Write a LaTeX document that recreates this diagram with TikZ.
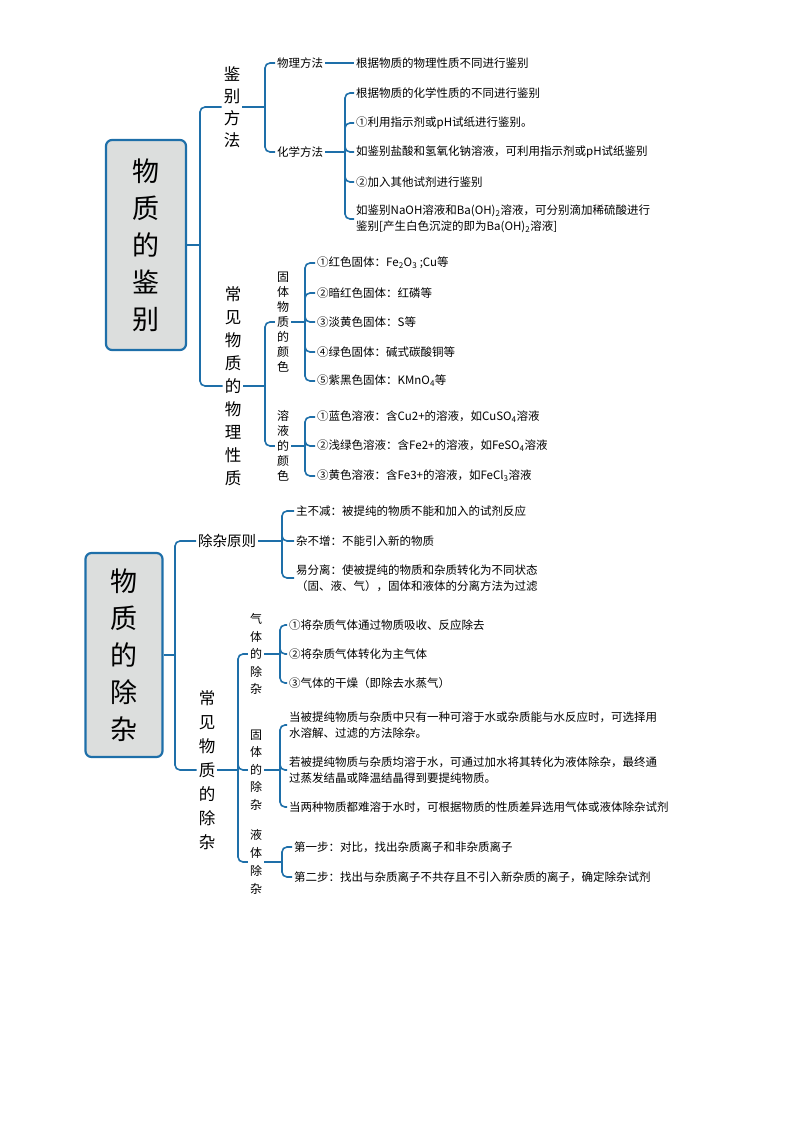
\documentclass[tikz,border=0pt]{standalone}
\usepackage{fontspec}
\setmainfont{Noto Sans CJK SC}
\usetikzlibrary{positioning}
\definecolor{mapblue}{HTML}{1E6FA9}
\definecolor{boxgray}{HTML}{DCDEDD}
\tikzset{brace/.style={draw=mapblue,line width=1.6pt,rounded corners=5pt},
    titlebox/.style={draw=mapblue,line width=2.2pt,fill=boxgray,rounded corners=6pt,align=center,font=\fontsize{27}{37}\selectfont},
    leaf/.style={anchor=west,align=left,inner sep=2pt,font=\fontsize{11.5}{16}\selectfont},
    vtext/.style={align=center,inner sep=2pt,font=\fontsize{12}{15}\selectfont},
    vbig/.style={align=center,inner sep=2pt,font=\fontsize{16.5}{23}\selectfont}}
\begin{document}
\begin{tikzpicture}[x=1pt,y=-1pt]
\useasboundingbox (0,0) rectangle (794,1123);
% first block
\node[titlebox,minimum width=80,minimum height=210] (t1) at (146,245) {物\\质\\的\\鉴\\别};
\node[vbig,font=\fontsize{16.5}{22}\selectfont] (m1) at (232,107) {鉴\\别\\方\\法};
\node[vbig] (m2) at (233,386) {常\\见\\物\\质\\的\\物\\理\\性\\质};
\coordinate (b1) at (200,245);
\draw[brace] (t1.east) -- (b1);
\draw[brace] (b1) |- (m1.west);
\draw[brace] (b1) |- (m2.west);
\node[leaf] (p1) at (275,63) {物理方法};
\node[leaf] (p2) at (275,152) {化学方法};
\coordinate (b2) at (265,107);
\draw[brace] (m1.east) -- (b2);
\draw[brace] (b2) |- (p1.west);
\draw[brace] (b2) |- (p2.west);
\node[leaf] (p1a) at (354,63) {根据物质的物理性质不同进行鉴别};
\draw[brace] (p1.east) -- (p1a.west);
\node[leaf] (c1) at (354,93) {根据物质的化学性质的不同进行鉴别};
\node[leaf] (c2) at (354,123) {①利用指示剂或pH试纸进行鉴别。};
\node[leaf] (c3) at (354,152) {如鉴别盐酸和氢氧化钠溶液，可利用指示剂或pH试纸鉴别};
\node[leaf] (c4) at (354,182) {②加入其他试剂进行鉴别};
\node[leaf] (c5) at (354,219) {如鉴别NaOH溶液和Ba(OH)\textsubscript{2}溶液，可分别滴加稀硫酸进行\\鉴别[产生白色沉淀的即为Ba(OH)\textsubscript{2}溶液]};
\coordinate (b3) at (345,152);
\draw[brace] (p2.east) -- (b3);
\foreach \n in {c1,c2,c3,c4,c5} \draw[brace] (b3) |- (\n.west);
\node[vtext] (s1) at (283,322) {固\\体\\物\\质\\的\\颜\\色};
\node[vtext] (s2) at (283,446) {溶\\液\\的\\颜\\色};
\coordinate (b4) at (265,386);
\draw[brace] (m2.east) -- (b4);
\draw[brace] (b4) |- (s1.west);
\draw[brace] (b4) |- (s2.west);
\node[leaf] (g1) at (315,263) {①红色固体：Fe\textsubscript{2}O\textsubscript{3} ;Cu等};
\node[leaf] (g2) at (315,293) {②暗红色固体：红磷等};
\node[leaf] (g3) at (315,322) {③淡黄色固体：S等};
\node[leaf] (g4) at (315,352) {④绿色固体：碱式碳酸铜等};
\node[leaf] (g5) at (315,381) {⑤紫黑色固体：KMnO\textsubscript{4}等};
\coordinate (b5) at (305,322);
\draw[brace] (s1.east) -- (b5);
\foreach \n in {g1,g2,g3,g4,g5} \draw[brace] (b5) |- (\n.west);
\node[leaf] (r1) at (315,417) {①蓝色溶液：含Cu2+的溶液，如CuSO\textsubscript{4}溶液};
\node[leaf] (r2) at (315,446) {②浅绿色溶液：含Fe2+的溶液，如FeSO\textsubscript{4}溶液};
\node[leaf] (r3) at (315,476) {③黄色溶液：含Fe3+的溶液，如FeCl\textsubscript{3}溶液};
\coordinate (b6) at (305,446);
\draw[brace] (s2.east) -- (b6);
\foreach \n in {r1,r2,r3} \draw[brace] (b6) |- (\n.west);
% second block
\node[titlebox,minimum width=77,minimum height=204] (t2) at (124,655) {物\\质\\的\\除\\杂};
\node[leaf,font=\fontsize{14.5}{18}\selectfont] (n1) at (196,541) {除杂原则};
\node[vbig,font=\fontsize{16.5}{24}\selectfont] (n2) at (207,770) {常\\见\\物\\质\\的\\除\\杂};
\coordinate (b7) at (175,655);
\draw[brace] (t2.east) -- (b7);
\draw[brace] (b7) |- (n1.west);
\draw[brace] (b7) |- (n2.west);
\node[leaf] (y1) at (294,511) {主不减：被提纯的物质不能和加入的试剂反应};
\node[leaf] (y2) at (294,541) {杂不增：不能引入新的物质};
\node[leaf] (y3) at (294,578) {易分离：使被提纯的物质和杂质转化为不同状态\\（固、液、气），固体和液体的分离方法为过滤};
\coordinate (b8) at (282,541);
\draw[brace] (n1.east) -- (b8);
\foreach \n in {y1,y2,y3} \draw[brace] (b8) |- (\n.west);
\node[vtext,font=\fontsize{12}{17.5}\selectfont] (q1) at (256,654) {气\\体\\的\\除\\杂};
\node[vtext,font=\fontsize{12}{17.5}\selectfont] (q2) at (256,770) {固\\体\\的\\除\\杂};
\node[vtext,font=\fontsize{12}{18}\selectfont] (q3) at (256,862) {液\\体\\除\\杂};
\coordinate (b9) at (238,770);
\draw[brace] (n2.east) -- (b9);
\foreach \n in {q1,q2,q3} \draw[brace] (b9) |- (\n.west);
\node[leaf] (h1) at (287,625) {①将杂质气体通过物质吸收、反应除去};
\node[leaf] (h2) at (287,654) {②将杂质气体转化为主气体};
\node[leaf] (h3) at (287,683) {③气体的干燥（即除去水蒸气）};
\coordinate (b10) at (280,654);
\draw[brace] (q1.east) -- (b10);
\foreach \n in {h1,h2,h3} \draw[brace] (b10) |- (\n.west);
\node[leaf] (k1) at (287,725) {当被提纯物质与杂质中只有一种可溶于水或杂质能与水反应时，可选择用\\水溶解、过滤的方法除杂。};
\node[leaf] (k2) at (287,770) {若被提纯物质与杂质均溶于水，可通过加水将其转化为液体除杂，最终通\\过蒸发结晶或降温结晶得到要提纯物质。};
\node[leaf] (k3) at (287,807) {当两种物质都难溶于水时，可根据物质的性质差异选用气体或液体除杂试剂};
\coordinate (b11) at (280,770);
\draw[brace] (q2.east) -- (b11);
\foreach \n in {k1,k2,k3} \draw[brace] (b11) |- (\n.west);
\node[leaf] (w1) at (292,847) {第一步：对比，找出杂质离子和非杂质离子};
\node[leaf] (w2) at (292,877) {第二步：找出与杂质离子不共存且不引入新杂质的离子，确定除杂试剂};
\coordinate (b12) at (282,862);
\draw[brace] (q3.east) -- (b12);
\foreach \n in {w1,w2} \draw[brace] (b12) |- (\n.west);
\end{tikzpicture}
\end{document}
